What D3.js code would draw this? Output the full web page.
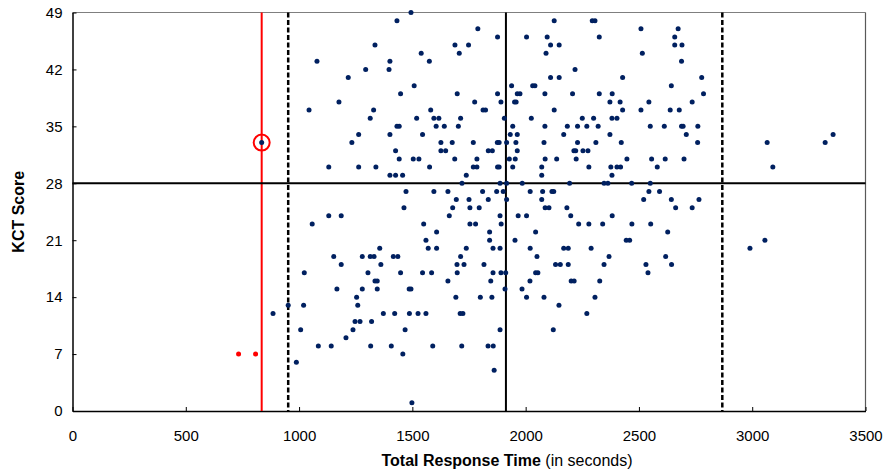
<!DOCTYPE html>
<html>
<head>
<meta charset="utf-8">
<script src="https://cdn.jsdelivr.net/npm/d3@7"></script>
<style>
  body { margin: 0; background: #fff; }
  text { font-family: "Liberation Sans", Arial, sans-serif; }
</style>
</head>
<body>
<svg id="chart" width="884" height="472"></svg>
<script>
// KCT score levels (y) and the response times (x) of the participants at each level
var scoreLevels = [49, 48, 47, 46, 45, 44, 43, 42, 41, 40, 39, 38, 37, 36, 35, 34, 33, 32, 31, 30,
                   29, 28, 27, 26, 25, 24, 23, 22, 21, 20, 19, 18, 17, 16, 15, 14, 13, 12, 11, 10,
                   9, 8, 7, 6, 5, 1];
var timesAtScore = [
  [1494],
  [1432, 2126, 2294, 2306],
  [1789, 2509, 2673],
  [1876, 2004, 2095, 2325, 2658],
  [1335, 1688, 1748, 2110, 2148, 2658, 2690],
  [1539, 1707, 2090, 2515],
  [1079, 1401, 1575, 2688],
  [1294, 1397, 2218],
  [1217, 2110, 2148, 2428, 2777],
  [1508, 1938, 2031, 2041, 2643],
  [1448, 1698, 1876, 1963, 1975, 2085, 2207, 2325, 2382, 2785],
  [1176, 1775, 1891, 1951, 1958, 2372, 2417, 2544, 2735],
  [1044, 1329, 1581, 1812, 1823, 2126, 2428, 2509, 2638, 2678],
  [1314, 1519, 1595, 1617, 1713, 1906, 2025, 2250, 2300, 2381, 2403],
  [1432, 1442, 1605, 1641, 1703, 1943, 2085, 2184, 2229, 2270, 2320, 2550, 2612, 2688, 2695, 2760],
  [1263, 1401, 1545, 1932, 1963, 2168, 2372, 2709, 3357],
  [835, 1233, 1626, 1676, 1769, 1875, 1883, 1916, 1957, 2081, 2229, 2310, 2422, 2759, 3066, 3322],
  [1426, 1626, 1647, 1835, 1853, 1963, 2213, 2221, 2253, 2275],
  [1442, 1504, 1529, 1687, 1785, 1928, 1954, 2086, 2137, 2223, 2447, 2556, 2616, 2699],
  [1131, 1263, 1339, 1576, 1769, 1785, 1876, 1883, 1943, 2071, 2279, 2376, 2403, 2419, 2581, 3091],
  [1401, 1426, 1457, 1738, 2071, 2381],
  [1719, 1887, 1916, 1985, 2194, 2346, 2363, 2468, 2550],
  [1472, 1595, 1657, 1810, 1872, 1901, 2020, 2075, 2116, 2124, 2544, 2591],
  [1694, 1750, 1835, 1916, 2071, 2521, 2643, 2765],
  [1463, 1678, 1754, 1795, 2086, 2103, 2182, 2662, 2735],
  [1131, 1186, 1663, 1887, 1967, 2004, 2199, 2382],
  [1058, 1550, 1754, 1779, 1892, 2234, 2279, 2340, 2469, 2552],
  [1607, 1841, 2044, 2627],
  [1560, 1841, 1953, 2444, 2459, 3056],
  [1356, 1570, 1607, 1738, 1856, 1887, 2020, 2168, 2188, 2289, 2990],
  [1153, 1279, 1314, 1331, 1416, 1436, 1713, 2050, 2368, 2618],
  [1186, 1361, 1697, 1728, 1816, 2132, 2153, 2188, 2346, 2531, 2644],
  [1023, 1304, 1448, 1545, 1585, 1698, 1856, 1891, 1912, 2044, 2054, 2540],
  [1335, 1345, 1657, 1846, 2019, 2201, 2214, 2327],
  [1167, 1279, 1345, 1486, 1494, 1909, 1984],
  [1254, 1692, 1800, 1851, 2004, 2081, 2306],
  [952, 1020, 1259, 2147],
  [885, 1372, 1422, 1487, 1525, 1560, 1711, 1723, 2270],
  [1247, 1269, 1320],
  [1007, 1238, 1468, 1887, 2122],
  [1207],
  [1085, 1142, 1316, 1407, 1590, 1718, 1834, 1857],
  [1458],
  [988],
  [1861],
  [1498]
];

// points flagged in red (too fast) and the circled participant
var flaggedTimes = [733, 808];
var flaggedScores = [7, 7];
var circledPoint = [835, 33];

// reference lines
var redCutTime = 835;
var lowerCutTime = 952;
var meanTime = 1913;
var upperCutTime = 2868;
var scoreCut = 28;

var xTicks = [0, 500, 1000, 1500, 2000, 2500, 3000, 3500];
var yTicks = [0, 7, 14, 21, 28, 35, 42, 49];

var points = [];
scoreLevels.forEach(function (s, i) {
    timesAtScore[i].forEach(function (t) {
        points.push({ time: t, score: s });
    });
});

var svg = d3.select('#chart');

// plot area edges
var plotLeft = 72.5, plotRight = 865.5, plotTop = 12.5, plotBottom = 411;

var xscale = d3.scaleLinear().domain([0, 3500]).range([plotLeft, plotRight]);
var yscale = d3.scaleLinear().domain([0, 49]).range([plotBottom, plotTop]);

// plot border (top / right)
svg.append('line')
    .attr('x1', plotLeft).attr('x2', plotRight).attr('y1', plotTop).attr('y2', plotTop)
    .attr('stroke', '#7f7f7f').attr('stroke-width', 1.2);
svg.append('line')
    .attr('x1', plotRight).attr('x2', plotRight).attr('y1', plotTop).attr('y2', plotBottom)
    .attr('stroke', '#595959').attr('stroke-width', 1.2);

// axes
var x_axis = d3.axisBottom(xscale).tickValues(xTicks).tickFormat(d3.format('d'))
    .tickSizeInner(-4).tickSizeOuter(0).tickPadding(19);
var y_axis = d3.axisLeft(yscale).tickValues(yTicks).tickFormat(d3.format('d'))
    .tickSizeInner(-4).tickSizeOuter(0).tickPadding(10);

var gx = svg.append('g')
    .attr('transform', 'translate(0,' + plotBottom + ')')
    .call(x_axis);
var gy = svg.append('g')
    .attr('transform', 'translate(' + plotLeft + ',0)')
    .call(y_axis);

[gx, gy].forEach(function (g) {
    g.select('.domain').attr('stroke', '#000').attr('stroke-width', 1.5);
    g.selectAll('.tick line').attr('stroke', '#000');
    g.selectAll('text').attr('font-size', 15).attr('fill', '#000')
        .attr('font-family', '"Liberation Sans", Arial, sans-serif');
});

// reference lines
function vline(t, color, width, dash) {
    svg.append('line')
        .attr('x1', xscale(t)).attr('x2', xscale(t))
        .attr('y1', yscale(49)).attr('y2', yscale(0))
        .attr('stroke', color).attr('stroke-width', width)
        .attr('stroke-dasharray', dash || null);
}
vline(redCutTime, '#ff0000', 2);
vline(lowerCutTime, '#000', 2.5, '5,2.5');
vline(upperCutTime, '#000', 2.5, '5,2.5');
vline(meanTime, '#000', 2);

svg.append('line')
    .attr('x1', xscale(0)).attr('x2', xscale(3500))
    .attr('y1', yscale(scoreCut)).attr('y2', yscale(scoreCut))
    .attr('stroke', '#000').attr('stroke-width', 2);

// points
svg.append('g').selectAll('circle')
    .data(points)
    .enter().append('circle')
    .attr('cx', function (d) { return xscale(d.time); })
    .attr('cy', function (d) { return yscale(d.score); })
    .attr('r', 2.5)
    .attr('fill', '#002060');

svg.append('g').selectAll('circle')
    .data(flaggedTimes)
    .enter().append('circle')
    .attr('cx', function (d) { return xscale(d); })
    .attr('cy', function (d, i) { return yscale(flaggedScores[i]); })
    .attr('r', 2.5)
    .attr('fill', '#ff0000');

svg.append('circle')
    .attr('cx', xscale(circledPoint[0]))
    .attr('cy', yscale(circledPoint[1]))
    .attr('r', 8)
    .attr('fill', 'none')
    .attr('stroke', '#ff0000')
    .attr('stroke-width', 2);

// axis titles
svg.append('text')
    .attr('transform', 'translate(24,' + ((plotTop + plotBottom) / 2) + ') rotate(-90)')
    .attr('text-anchor', 'middle')
    .attr('font-size', 16)
    .attr('font-weight', 'bold')
    .text('KCT Score');

var xt = svg.append('text')
    .attr('x', 507)
    .attr('y', 466)
    .attr('text-anchor', 'middle')
    .attr('font-size', 16);
xt.append('tspan').attr('font-weight', 'bold').text('Total Response Time');
xt.append('tspan').text(' (in seconds)');
</script>
</body>
</html>
